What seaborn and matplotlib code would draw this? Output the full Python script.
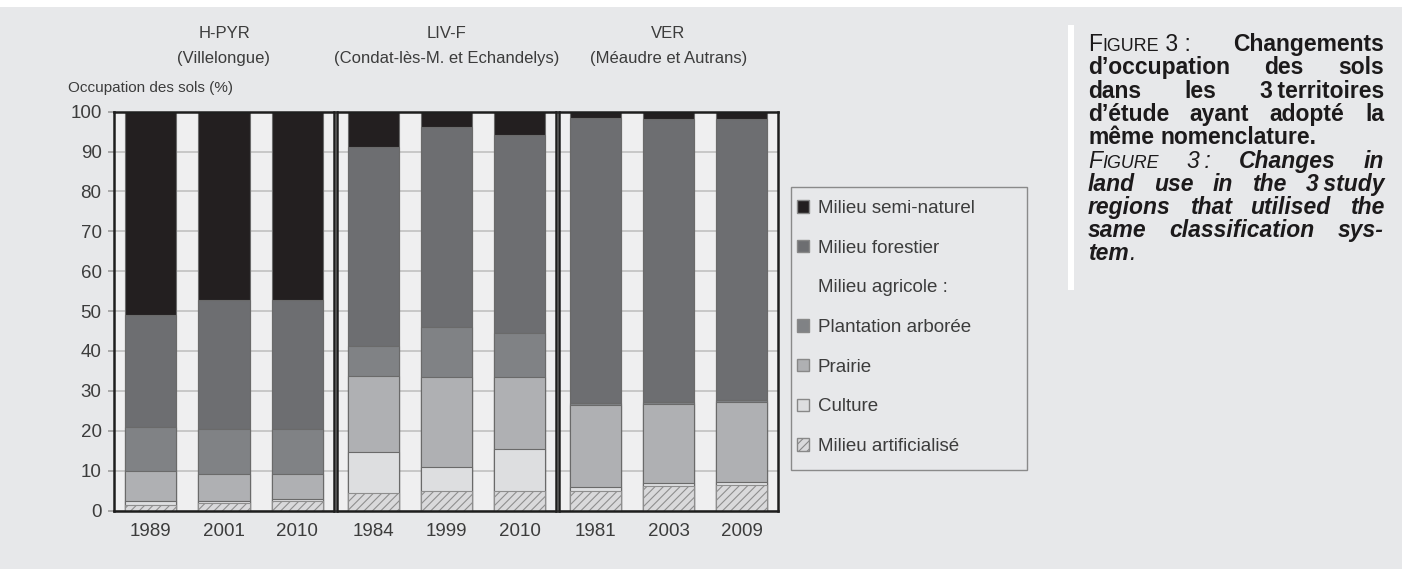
import pandas as pd
import seaborn as sns
import matplotlib.pyplot as plt
from matplotlib.patches import Patch, Rectangle

# --- data (% of land area) ---
territoires = ['H-PYR', 'LIV-F', 'VER']
communes = ['(Villelongue)', '(Condat-lès-M. et Echandelys)', '(Méaudre et Autrans)']
territoire = ['H-PYR'] * 3 + ['LIV-F'] * 3 + ['VER'] * 3
annees = ['1989', '2001', '2010', '1984', '1999', '2010', '1981', '2003', '2009']

artificialise = [1.5, 2.0, 2.3, 4.5, 4.8, 5.0, 4.8, 6.2, 6.4]
culture = [0.8, 0.4, 0.6, 10.1, 6.0, 10.4, 1.1, 0.7, 0.8]
prairie = [7.5, 6.7, 6.2, 19.2, 22.6, 18.0, 20.6, 19.8, 19.9]
plantation = [11.2, 11.3, 11.3, 7.5, 12.7, 11.1, 0.4, 0.6, 0.5]
forestier = [28.0, 32.3, 32.3, 49.9, 50.0, 49.7, 71.6, 70.9, 70.6]
semi_naturel = [51.0, 47.3, 47.3, 8.8, 3.9, 5.8, 1.5, 1.8, 1.8]

# bottom -> top stacking order
couches = ['Milieu artificialisé', 'Culture', 'Prairie', 'Plantation arborée',
           'Milieu forestier', 'Milieu semi-naturel']
valeurs = [artificialise, culture, prairie, plantation, forestier, semi_naturel]
couleurs = ['#d9d9db', '#dddee0', '#afb0b3', '#808285', '#6d6e71', '#231f20']

df = pd.DataFrame({'territoire': territoire, 'annee': annees})
for nom, v in zip(couches, valeurs):
    df[nom] = v
df[couches] = df[couches].cumsum(axis=1)

W, H = 1402, 569
BG = '#e7e8ea'
TXT = '#3c3c3c'
sns.set_theme(style='white')
plt.rcParams['font.family'] = ['Liberation Sans', 'DejaVu Sans']
plt.rcParams['hatch.linewidth'] = 0.8

fig = plt.figure(figsize=(W / 100, H / 100), dpi=100, facecolor=BG)
fig.patches.append(Rectangle((0, 1 - 7 / H), 1, 7 / H, transform=fig.transFigure,
                             facecolor='white', edgecolor='none', zorder=0))
fig.patches.append(Rectangle((1068 / W, 1 - 290 / H), 6 / W, 265 / H, transform=fig.transFigure,
                             facecolor='white', edgecolor='none', zorder=0))

y_top, y_bot = 111.7, 510.5
lefts = [114, 336.5, 558.5]
axes = []
for i, terr in enumerate(territoires):
    ax = fig.add_axes([lefts[i] / W, 1 - y_bot / H, 220 / W, (y_bot - y_top) / H])
    ax.set_facecolor('#efeff0')
    sub = df[df['territoire'] == terr]
    for nom, col in reversed(list(zip(couches, couleurs))):
        kw = dict(edgecolor='#6a6a6a', linewidth=0.8)
        if nom == 'Milieu artificialisé':
            kw = dict(edgecolor='#8e8e8e', linewidth=0.8, hatch='////')
        sns.barplot(x=sub['annee'].tolist(), y=sub[nom].tolist(), color=col, saturation=1,
                    width=0.7, errorbar=None, ax=ax, **kw)
    ax.set_xlim(-0.5, 2.5)
    ax.set_ylim(0, 100)
    ax.set_yticks(range(0, 101, 10))
    ax.yaxis.grid(True, color='#c4c4c4', linewidth=1.3)
    ax.set_axisbelow(True)
    for s in ax.spines.values():
        s.set_color('#1e1e1e')
        s.set_linewidth(1.8)
    ax.set_xticks([-0.5, 0.5, 1.5, 2.5], minor=True)
    ax.tick_params(axis='x', which='major', length=0, pad=9, labelsize=13.5, labelcolor=TXT)
    ax.tick_params(axis='x', which='minor', length=4, color='#b5b5b5', width=1)
    ax.tick_params(axis='y', length=4, color='#a0a0a0', pad=5, labelsize=13.5, labelcolor=TXT,
                   left=(i == 0), labelleft=(i == 0))
    ax.set_xlabel('')
    ax.set_ylabel('')
    cx = (lefts[i] + 110) / W
    fig.text(cx, 1 - 33 / H, terr, ha='center', va='center', fontsize=12, color=TXT)
    fig.text(cx, 1 - 58 / H, communes[i], ha='center', va='center', fontsize=12, color=TXT)
    axes.append(ax)

fig.text(68 / W, 1 - 88 / H, 'Occupation des sols (%)', ha='left', va='center',
         fontsize=11, color=TXT)

# --- legend (frame drawn separately) ---
fig.patches.append(Rectangle((791 / W, 1 - 470 / H), 236 / W, 283 / H, transform=fig.transFigure,
                             facecolor='none', edgecolor='#8a8a8a', linewidth=1, zorder=1))
handles = [Patch(facecolor=couleurs[5], edgecolor='#888888'),
           Patch(facecolor=couleurs[4], edgecolor='#888888'),
           Patch(facecolor='none', edgecolor='none'),
           Patch(facecolor=couleurs[3], edgecolor='#888888'),
           Patch(facecolor=couleurs[2], edgecolor='#888888'),
           Patch(facecolor=couleurs[1], edgecolor='#888888'),
           Patch(facecolor=couleurs[0], edgecolor='#888888', hatch='////')]
labels = ['Milieu semi-naturel', 'Milieu forestier', 'Milieu agricole :',
          'Plantation arborée', 'Prairie', 'Culture', 'Milieu artificialisé']
leg = fig.legend(handles, labels, loc='upper left', bbox_to_anchor=(797 / W, 1 - 200 / H),
                 borderaxespad=0, borderpad=0, fontsize=13.5, handlelength=0.65,
                 handleheight=0.65, handletextpad=0.45, labelspacing=1.21, frameon=False,
                 labelcolor=TXT)

# --- caption (justified) ---
CAP = '#1c1a1b'
FS = 16.5
X0, X1 = 1088, 1384
r = fig.canvas.get_renderer()


def put_line(words, y_px, justify=True):
    groups, widths = [], []
    for w in words:
        runs, tot = [], 0
        for s, kw in w:
            t = fig.text(0, 1 - y_px / H, s, ha='left', va='baseline', color=CAP, **kw)
            bw = t.get_window_extent(renderer=r).width
            runs.append((t, bw))
            tot += bw
        groups.append(runs)
        widths.append(tot)
    if justify and len(words) > 1:
        gap = (X1 - X0 - sum(widths)) / (len(words) - 1)
    else:
        gap = 0.28 * FS * 100 / 72
    x = X0
    for runs in groups:
        for t, bw in runs:
            t.set_x(x / W)
            x += bw
        x += gap


B = dict(fontsize=FS, fontweight='bold')
BI = dict(fontsize=FS, fontweight='bold', fontstyle='italic')
R = dict(fontsize=FS)
SC = dict(fontsize=FS * 0.78)
RI = dict(fontsize=FS, fontstyle='italic')
SCI = dict(fontsize=FS * 0.78, fontstyle='italic')


def bw(text, kw):
    return [[(s, kw)] for s in text.split()]


put_line([[('F', R), ('IGURE', SC), (' 3 :', R)], [('Changements', B)]], 51)
put_line(bw("d’occupation des sols", B), 74.3)
put_line([[('dans', B)], [('les', B)], [('3\u2009territoires', B)]], 97.6)
put_line(bw("d’étude ayant adopté la", B), 121)
put_line(bw("même nomenclature.", B), 144.3, justify=False)
put_line([[('F', RI), ('IGURE', SCI)], [('3\u2009:', RI)], [('Changes', BI)], [('in', BI)]], 168)
put_line([[('land', BI)], [('use', BI)], [('in', BI)], [('the', BI)], [('3\u2009study', BI)]], 191)
put_line(bw("regions that utilised the", BI), 214)
put_line(bw("same classification sys-", BI), 237)
put_line([[('tem', BI), ('.', RI)]], 260, justify=False)

fig.savefig('out.png', dpi=100, facecolor=BG)
